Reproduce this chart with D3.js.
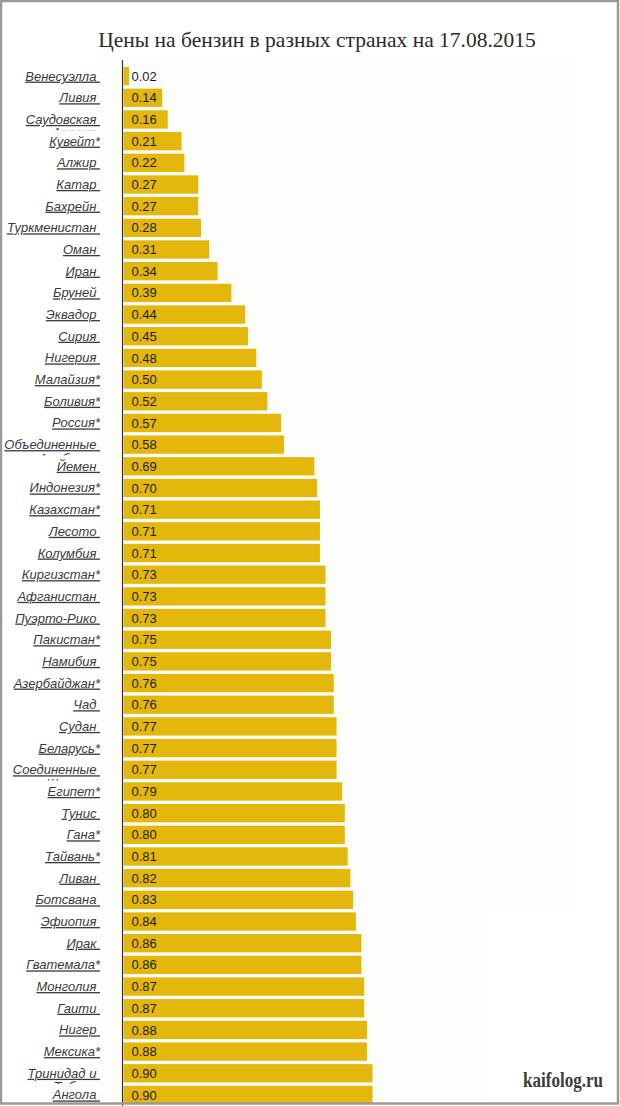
<!DOCTYPE html>
<html>
<head>
<meta charset="utf-8">
<script src="https://cdn.jsdelivr.net/npm/d3@7"></script>
<style>
  html, body { margin: 0; padding: 0; background: #fff; }
  svg { display: block; }
</style>
</head>
<body>
<svg id="chart" width="620" height="1106"></svg>
<script>
const title = "Цены на бензин в разных странах на 17.08.2015";
const countries = [
  "Венесуэлла", "Ливия", "Саудовская", "Кувейт*", "Алжир", "Катар", "Бахрейн",
  "Туркменистан", "Оман", "Иран", "Бруней", "Эквадор", "Сирия", "Нигерия",
  "Малайзия*", "Боливия*", "Россия*", "Объединенные", "Йемен", "Индонезия*",
  "Казахстан*", "Лесото", "Колумбия", "Киргизстан*", "Афганистан", "Пуэрто-Рико",
  "Пакистан*", "Намибия", "Азербайджан*", "Чад", "Судан", "Беларусь*",
  "Соединенные", "Египет*", "Тунис", "Гана*", "Тайвань*", "Ливан", "Ботсвана",
  "Эфиопия", "Ирак", "Гватемала*", "Монголия", "Гаити", "Нигер", "Мексика*",
  "Тринидад и", "Ангола"
];
const prices = [
  0.02, 0.14, 0.16, 0.21, 0.22, 0.27, 0.27,
  0.28, 0.31, 0.34, 0.39, 0.44, 0.45, 0.48,
  0.50, 0.52, 0.57, 0.58, 0.69, 0.70,
  0.71, 0.71, 0.71, 0.73, 0.73, 0.73,
  0.75, 0.75, 0.76, 0.76, 0.77, 0.77,
  0.77, 0.79, 0.80, 0.80, 0.81, 0.82, 0.83,
  0.84, 0.86, 0.86, 0.87, 0.87, 0.88, 0.88,
  0.90, 0.90
];
// second (clipped) lines of wrapped country names
const secondLineOf = ["Саудовская", "Объединенные", "Соединенные", "Тринидад и"];
const secondLines = ["Аравия", "Арабские", "Штаты", "Тобаго"];
const watermark = "kaifolog.ru";

const data = countries.map((c, i) => ({ name: c, value: prices[i], idx: i }));

const svg = d3.select("#chart");
const W = 620, H = 1106;

// subtle backgrounds
svg.append("rect").attr("x", 0).attr("y", 0).attr("width", W).attr("height", H).attr("fill", "#ffffff");
svg.append("rect").attr("x", 96).attr("y", 56).attr("width", 480).attr("height", H - 56).attr("fill", "#fdfdfb");
svg.append("rect").attr("x", 488).attr("y", 912).attr("width", 88).attr("height", H - 912).attr("fill", "#ffffff");

const x = d3.scaleLinear().domain([0, 0.9]).range([123.5, 372.5]);
const y = d3.scaleBand().domain(countries).range([65.2, 65.2 + 48 * 21.68]).paddingInner(0.155).paddingOuter(0.08);

// title
svg.append("text")
  .attr("x", 317).attr("y", 47)
  .attr("text-anchor", "middle")
  .attr("font-family", "'Liberation Serif', 'Times New Roman', serif")
  .attr("font-size", 21.5)
  .attr("fill", "#2a2a2a")
  .text(title);

// bars
svg.append("g").selectAll("rect").data(data).join("rect")
  .attr("x", x(0))
  .attr("y", d => y(d.name))
  .attr("width", d => x(d.value) - x(0))
  .attr("height", y.bandwidth())
  .attr("fill", "#e3b70b");

// value labels
svg.append("g").selectAll("text").data(data).join("text")
  .attr("x", x(0) + 8)
  .attr("y", d => y(d.name) + y.bandwidth() / 2 + 4.6)
  .attr("font-family", "'Liberation Sans', Arial, sans-serif")
  .attr("font-size", 13)
  .attr("fill", "#1c1c1c")
  .text(d => d3.format(".2f")(d.value));

// category labels (underlined italic, clipped to their row)
const step = y.step();
const defs = svg.append("defs");
data.forEach(d => {
  const cy = y(d.name) + y.bandwidth() / 2;
  defs.append("clipPath").attr("id", "clip" + d.idx)
    .append("rect").attr("x", 0).attr("y", cy - step / 2).attr("width", 118).attr("height", step);
});
const lab = svg.append("g").selectAll("g").data(data).join("g")
  .attr("clip-path", d => `url(#clip${d.idx})`)
  .attr("font-family", "'Liberation Sans', Arial, sans-serif")
  .attr("font-style", "italic")
  .attr("font-size", 13)
  .attr("fill", "#3a3a3a")
  .attr("text-anchor", "end");
lab.append("text")
  .attr("x", 100)
  .attr("y", d => y(d.name) + y.bandwidth() / 2 + 4.5)
  .attr("text-decoration", "underline")
  .text(d => d.name.endsWith("*") ? d.name : d.name + "\u00a0");
lab.filter(d => secondLineOf.includes(d.name)).append("text")
  .attr("x", 100)
  .attr("y", d => y(d.name) + y.bandwidth() / 2 + 4.5 + 13.5)
  .attr("text-decoration", "underline")
  .text(d => secondLines[secondLineOf.indexOf(d.name)] + "\u00a0");

// axis line
svg.append("line")
  .attr("x1", 122.5).attr("x2", 122.5)
  .attr("y1", 60).attr("y2", H)
  .attr("stroke", "#333").attr("stroke-width", 1.2);

// watermark
svg.append("text")
  .attr("x", 523).attr("y", 1087)
  .attr("font-family", "'Liberation Serif', 'Times New Roman', serif")
  .attr("font-weight", "bold")
  .attr("font-size", 20)
  .attr("fill", "#3c3c3c")
  .attr("textLength", 80)
  .attr("lengthAdjust", "spacingAndGlyphs")
  .text(watermark);

// frame
svg.append("rect").attr("x", 1).attr("y", 1).attr("width", W - 3).attr("height", H - 3.5)
  .attr("fill", "none").attr("stroke", "#9a9a9a").attr("stroke-width", 2.5);
</script>
</body>
</html>
